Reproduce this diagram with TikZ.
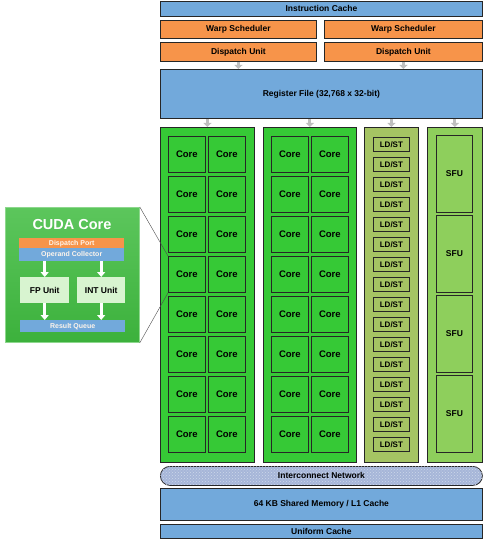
\documentclass[tikz,border=0pt]{standalone}
\usepackage{fontspec}
\setmainfont{Liberation Sans}
\usetikzlibrary{arrows.meta,patterns}

\definecolor{cacheblue}{HTML}{72A9DB}
\definecolor{schedorange}{HTML}{F7944A}
\definecolor{coregreen}{HTML}{36C936}
\definecolor{ldstgreen}{HTML}{A5C463}
\definecolor{sfugreen}{HTML}{8ECF5C}
\definecolor{netblue}{HTML}{A6B6D8}
\definecolor{unitgreen}{HTML}{D8F4D0}
\definecolor{insettop}{HTML}{5CC65C}
\definecolor{insetbottom}{HTML}{3CB13C}

\tikzset{
  box/.style={draw=black!85, line width=0.8pt, inner sep=0pt, anchor=north west,
    font=\bfseries\fontsize{8.5}{9}\selectfont},
  bluebar/.style={box, fill=cacheblue},
  orangebar/.style={box, fill=schedorange},
  coreblock/.style={box, fill=coregreen},
  corecell/.style={box, fill=coregreen, minimum width=37pt, minimum height=36pt,
    font=\bfseries\fontsize{9.5}{10}\selectfont},
  ldstcell/.style={box, fill=ldstgreen, minimum width=36pt, minimum height=14pt,
    font=\bfseries\fontsize{8}{9}\selectfont},
  sfucell/.style={box, fill=sfugreen, minimum width=36pt, minimum height=77pt},
  feed/.style={draw=black!25, line width=3pt, -{Triangle[width=8pt,length=4pt]}},
  inbar/.style={inner sep=0pt, anchor=north west, text=white!92!orange,
    font=\bfseries\fontsize{7}{8}\selectfont},
  inunit/.style={fill=unitgreen, inner sep=0pt, anchor=north west,
    minimum height=26pt, font=\bfseries\fontsize{8.5}{9}\selectfont},
  whitefeed/.style={draw=white, line width=3pt, -{Triangle[width=8pt,length=5pt]}}
}

\begin{document}
\begin{tikzpicture}[x=1pt,y=-1pt]
  \useasboundingbox (0,0) rectangle (484,540);
  % front end
  \node[bluebar, minimum width=322pt, minimum height=15pt] (icache) at (160,1)
    {Instruction Cache};
  \node[orangebar, minimum width=156pt, minimum height=18pt] (warpa) at (160,20)
    {Warp Scheduler};
  \node[orangebar, minimum width=158pt, minimum height=18pt] (warpb) at (324,20)
    {Warp Scheduler};
  \node[orangebar, minimum width=156pt, minimum height=19pt] (dispa) at (160,42)
    {Dispatch Unit};
  \node[orangebar, minimum width=158pt, minimum height=19pt] (dispb) at (324,42)
    {Dispatch Unit};
  \node[bluebar, minimum width=322pt, minimum height=49pt] (regfile) at (160,69)
    {Register File (32,768 x 32-bit)};
  \draw[feed] (dispa.south) -- (dispa.south |- regfile.north);
  \draw[feed] (dispb.south) -- (dispb.south |- regfile.north);

  % execution columns
  \node[coreblock, minimum width=94pt, minimum height=335pt] (blocka) at (160,127) {};
  \node[coreblock, minimum width=93pt, minimum height=335pt] (blockb) at (263,127) {};
  \node[box, fill=ldstgreen, minimum width=54pt, minimum height=335pt] (ldstcol) at (364,127) {};
  \node[box, fill=sfugreen, minimum width=55pt, minimum height=335pt] (sfucol) at (427,127) {};
  \foreach \col in {blocka,blockb,ldstcol,sfucol}
    \draw[feed] (regfile.south -| \col.north) -- (\col.north);
  \foreach \r in {1,...,8} {
    \node[corecell] (ca\r) at (168,{136+40*(\r-1)}) {Core};
    \node[corecell] (cb\r) at (208,{136+40*(\r-1)}) {Core};
    \node[corecell] (cc\r) at (271,{136+40*(\r-1)}) {Core};
    \node[corecell] (cd\r) at (311,{136+40*(\r-1)}) {Core};
  }
  \foreach \r in {1,...,16}
    \node[ldstcell] (ldst\r) at (373,{137+20*(\r-1)}) {LD/ST};
  \foreach \r in {1,...,4}
    \node[sfucell] (sfu\r) at (436,{135+80*(\r-1)}) {SFU};

  % memory side
  \node[box, fill=netblue, rounded corners=9.5pt, minimum width=322pt, minimum height=19pt,
    postaction={pattern=crosshatch dots, pattern color=white!45!netblue}] (network) at (160,466)
    {Interconnect Network};
  \node[bluebar, minimum width=322pt, minimum height=32pt] (shmem) at (160,488)
    {64 KB Shared Memory / L1 Cache};
  \node[bluebar, minimum width=322pt, minimum height=14pt] (ucache) at (160,524)
    {Uniform Cache};

  % CUDA core close-up
  \node[draw=insettop!70!white, line width=0.8pt, top color=insettop,
    bottom color=insetbottom, anchor=north west,
    minimum width=134pt, minimum height=135pt] (inset) at (5,207) {};
  \node[text=white, font=\bfseries\fontsize{14.5}{15}\selectfont] (title) at (72,225)
    {CUDA Core};
  \node[inbar, fill=schedorange, minimum width=105pt, minimum height=10pt] (dport) at (19,238)
    {Dispatch Port};
  \node[inbar, fill=cacheblue, minimum width=105pt, minimum height=13pt] (opcoll) at (19,248)
    {Operand Collector};
  \node[inunit, minimum width=49pt] (fpunit) at (20,277) {FP Unit};
  \node[inunit, minimum width=48pt] (intunit) at (77,277) {INT Unit};
  \node[inbar, fill=cacheblue, minimum width=105pt, minimum height=12pt] (rqueue) at (20,320)
    {Result Queue};
  \draw[whitefeed] (opcoll.south -| fpunit.north) -- (fpunit.north);
  \draw[whitefeed] (opcoll.south -| intunit.north) -- (intunit.north);
  \draw[whitefeed] (fpunit.south) -- (fpunit.south |- rqueue.north);
  \draw[whitefeed] (intunit.south) -- (intunit.south |- rqueue.north);
  \draw[black!70] (inset.north east) -- (ca4.north west);
  \draw[black!70] (inset.south east) -- (ca4.south west);
\end{tikzpicture}
\end{document}
